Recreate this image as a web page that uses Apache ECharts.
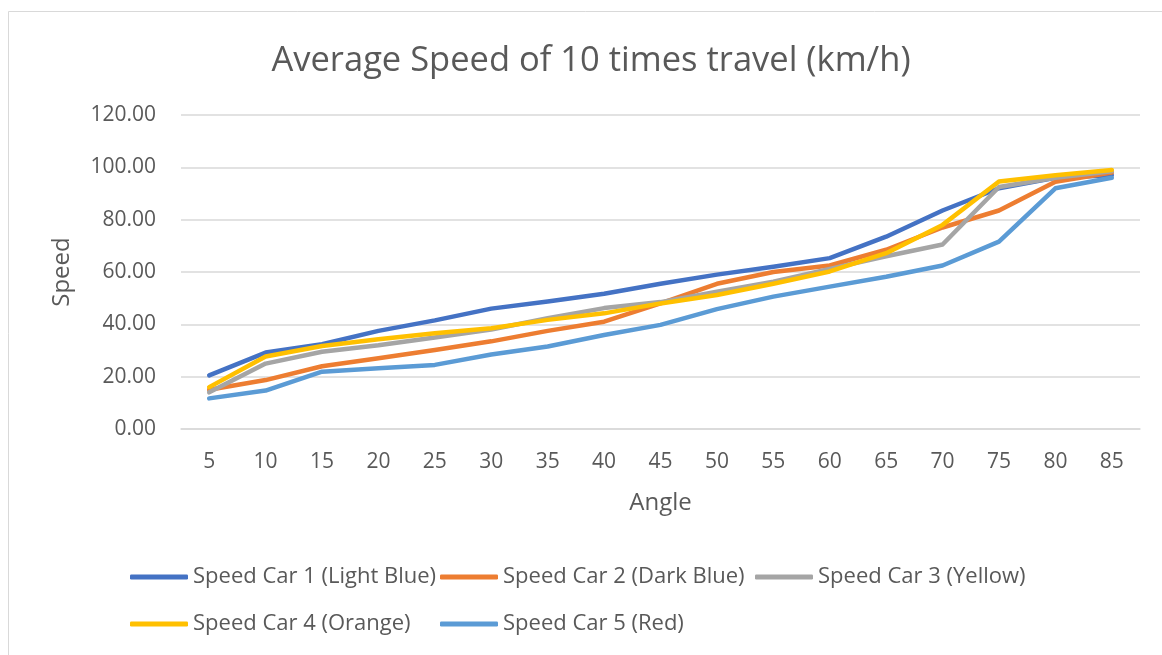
<!DOCTYPE html>
<html>
<head>
<meta charset="utf-8">
<style>
  html, body { margin: 0; padding: 0; background: #ffffff; }
  #chart { width: 1162px; height: 655px; }
</style>
<script src="https://cdn.jsdelivr.net/npm/echarts@6/dist/echarts.min.js"></script>
</head>
<body>
<div id="chart"></div>
<script>
// Travel angles (degrees) along the x axis
const angles = ['5', '10', '15', '20', '25', '30', '35', '40', '45', '50', '55', '60', '65', '70', '75', '80', '85'];

// Average speed of ten runs per car (km/h)
const car1 = [20.5, 29.2, 32.4, 37.5, 41.5, 46.0, 48.7, 51.7, 55.5, 59.0, 62.0, 65.3, 73.5, 83.5, 92.0, 96.0, 97.0];
const car2 = [15.0, 18.7, 24.0, 27.0, 30.2, 33.5, 37.5, 41.0, 48.0, 55.5, 60.0, 62.5, 68.5, 77.0, 83.5, 94.5, 98.0];
const car3 = [14.0, 25.0, 29.5, 32.0, 35.0, 38.0, 42.3, 46.2, 48.5, 52.5, 56.3, 61.2, 66.0, 70.5, 92.5, 96.0, 98.5];
const car4 = [16.0, 27.7, 31.7, 34.3, 36.6, 38.5, 41.7, 44.2, 48.0, 51.2, 55.5, 60.2, 67.2, 78.0, 94.6, 97.0, 99.0];
const car5 = [11.7, 14.7, 21.9, 23.2, 24.5, 28.5, 31.5, 35.9, 39.8, 45.8, 50.6, 54.4, 58.2, 62.5, 71.6, 92.0, 96.0];

const seriesNames = [
  'Speed Car 1 (Light Blue)',
  'Speed Car 2 (Dark Blue)',
  'Speed Car 3 (Yellow)',
  'Speed Car 4 (Orange)',
  'Speed Car 5 (Red)'
];
const seriesData = [car1, car2, car3, car4, car5];
const colors = ['#4472C4', '#ED7D31', '#A5A5A5', '#FFC000', '#5B9BD5'];

const FONT = '"Open Sans", "Noto Sans", sans-serif';
const TEXT = '#595959';

// Legend laid out as a two-row grid: [left, top] for each entry
const legendSlots = [[130, 564], [440, 564], [755, 564], [130, 611], [440, 611]];

const chart = echarts.init(document.getElementById('chart'), null, { renderer: 'canvas' });

chart.setOption({
  animation: false,
  backgroundColor: '#ffffff',
  color: colors,
  title: {
    text: 'Average Speed of 10 times travel (km/h)',
    left: 586,
    top: 39,
    textAlign: 'center',
    textStyle: { fontFamily: FONT, fontSize: 34.5, fontWeight: 'normal', color: TEXT }
  },
  graphic: [{
    type: 'rect',
    shape: { x: 8.5, y: 11.5, width: 1200, height: 700 },
    style: { fill: 'none', stroke: '#d9d9d9', lineWidth: 1 },
    silent: true
  }],
  legend: seriesNames.map((name, i) => ({
    data: [name],
    left: legendSlots[i][0],
    top: legendSlots[i][1],
    padding: 0,
    icon: 'roundRect',
    itemWidth: 58,
    itemHeight: 5,
    selectedMode: false,
    textStyle: { fontFamily: FONT, fontSize: 22, color: TEXT, lineHeight: 26 }
  })),
  grid: { left: 181, right: 22, top: 115, bottom: 226, containLabel: false },
  xAxis: {
    type: 'category',
    data: angles,
    boundaryGap: true,
    name: 'Angle',
    nameLocation: 'middle',
    nameGap: 62,
    nameTextStyle: { fontFamily: FONT, fontSize: 24, color: TEXT },
    axisLine: { show: true, lineStyle: { color: '#d9d9d9', width: 1.5 } },
    axisTick: { show: false },
    axisLabel: { fontFamily: FONT, fontSize: 21, color: TEXT, margin: 23 }
  },
  yAxis: {
    type: 'value',
    min: 0,
    max: 120,
    interval: 20,
    name: 'Speed',
    nameLocation: 'middle',
    nameGap: 107,
    nameRotate: 90,
    nameTextStyle: { fontFamily: FONT, fontSize: 24, color: TEXT },
    axisLine: { show: false },
    axisTick: { show: false },
    splitLine: { lineStyle: { color: '#d9d9d9', width: 1.5 } },
    axisLabel: {
      fontFamily: FONT, fontSize: 21, color: TEXT, margin: 25,
      formatter: v => v.toFixed(2)
    }
  },
  series: seriesNames.map((name, i) => ({
    name: name,
    type: 'line',
    data: seriesData[i],
    symbol: 'none',
    lineStyle: { width: 4.5, color: colors[i], cap: 'round', join: 'round' },
    itemStyle: { color: colors[i] }
  }))
});
</script>
</body>
</html>
